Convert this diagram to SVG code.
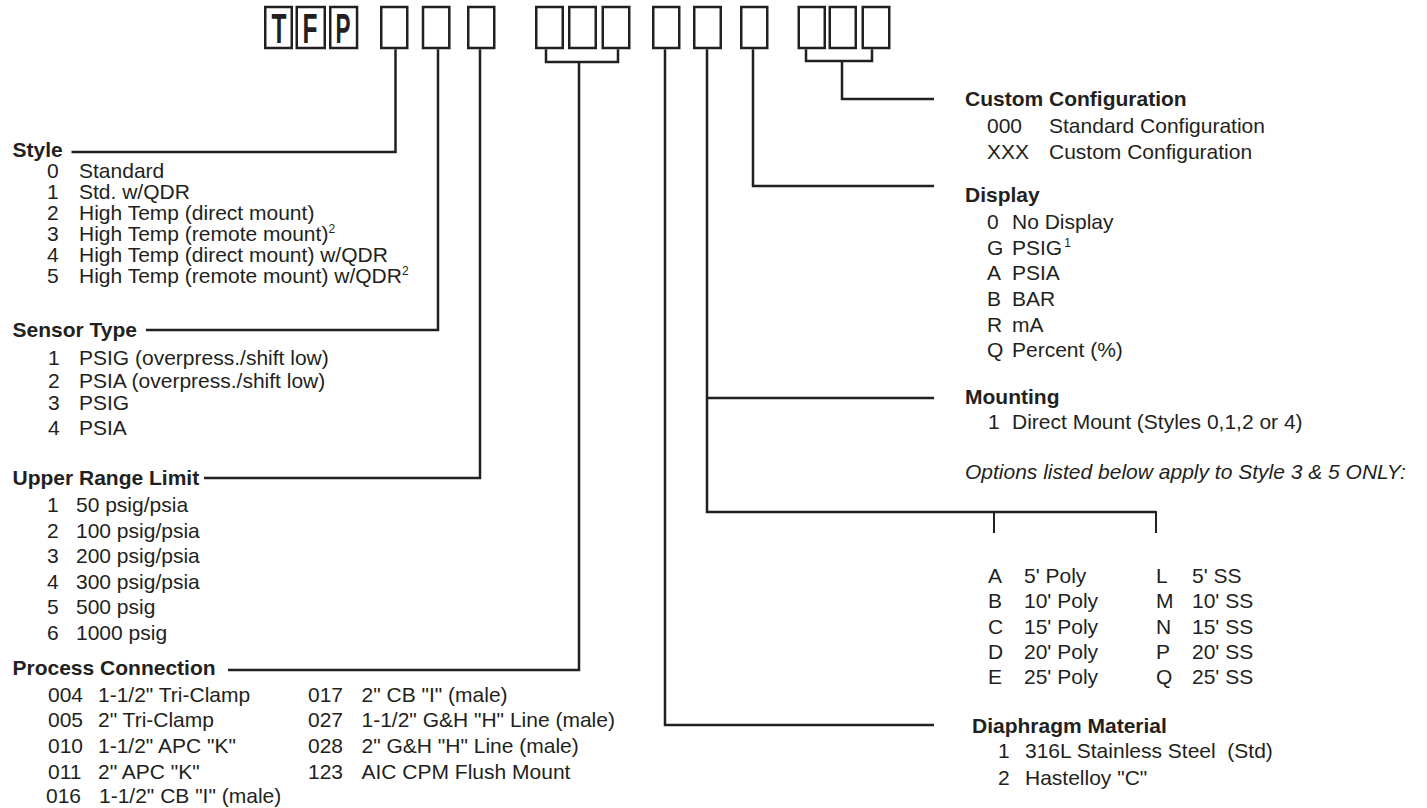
<svg xmlns="http://www.w3.org/2000/svg" width="1427" height="808" viewBox="0 0 1427 808">
<style>
.t{font-family:"Liberation Sans",Arial,Helvetica,sans-serif;font-size:21px;fill:#231f20}
.h{font-weight:bold}
.i{font-style:italic}
.sup{font-size:12px}
.box{fill:#fff;stroke:#231f20;stroke-width:2.5}
.ln{fill:none;stroke:#231f20;stroke-width:2.5;stroke-linejoin:miter;stroke-linecap:butt}
.tick{fill:none;stroke:#231f20;stroke-width:2}
.let{font-family:"Liberation Sans",Arial,Helvetica,sans-serif;font-weight:bold;font-size:43px;fill:#231f20}
</style>
<rect width="1427" height="808" fill="#fff"/>

<g id="code-boxes">
<rect class="box" x="265.25" y="7" width="26.5" height="41"/>
<rect class="box" x="296.75" y="7" width="28" height="41"/>
<rect class="box" x="330.25" y="7" width="26.8" height="41"/>
<text class="let" x="279" y="43.3" text-anchor="middle" textLength="15" lengthAdjust="spacingAndGlyphs">T</text>
<text class="let" x="310" y="43.3" text-anchor="middle" textLength="15" lengthAdjust="spacingAndGlyphs">F</text>
<text class="let" x="343" y="43.3" text-anchor="middle" textLength="15" lengthAdjust="spacingAndGlyphs">P</text>
<rect class="box" x="381.25" y="7" width="26" height="41"/>
<rect class="box" x="423" y="7" width="26.3" height="41"/>
<rect class="box" x="468.25" y="7" width="26" height="41"/>
<rect class="box" x="536.25" y="7" width="26.5" height="41"/>
<rect class="box" x="569.25" y="7" width="26.5" height="41"/>
<rect class="box" x="602.75" y="7" width="26.5" height="41"/>
<rect class="box" x="653.25" y="7" width="26" height="41"/>
<rect class="box" x="694.25" y="7" width="26.5" height="41"/>
<rect class="box" x="741.25" y="7" width="26" height="41"/>
<rect class="box" x="798.75" y="7" width="26" height="41"/>
<rect class="box" x="829.75" y="7" width="26" height="41"/>
<rect class="box" x="862.75" y="7" width="26.5" height="41"/>
</g>

<g id="connectors">
<path class="ln" d="M395.5 49.25V152H71.5"/>
<path class="ln" d="M438 49.25V330H146"/>
<path class="ln" d="M480 49.25V478H204"/>
<path class="ln" d="M546 49.25V62H618V49.25M579 62V670H228"/>
<path class="ln" d="M665 49.25V725H934"/>
<path class="ln" d="M707 49.25V512H1156M707 398H934"/>
<path class="tick" d="M994 512V533M1156 511V533"/>
<path class="ln" d="M753 49.25V186H934"/>
<path class="ln" d="M806 49.25V61H872V49.25M842 61V99H934"/>
</g>

<g id="style">
<text class="t h" x="12.5" y="156.5">Style</text>
<text class="t" x="47" y="177.5">0</text><text class="t" x="79" y="177.5">Standard</text>
<text class="t" x="47" y="198.5">1</text><text class="t" x="79" y="198.5">Std. w/QDR</text>
<text class="t" x="47" y="219.5">2</text><text class="t" x="79" y="219.5">High Temp (direct mount)</text>
<text class="t" x="47" y="240.5">3</text><text class="t" x="79" y="240.5">High Temp (remote mount)<tspan class="sup" dy="-8">2</tspan></text>
<text class="t" x="47" y="261.5">4</text><text class="t" x="79" y="261.5">High Temp (direct mount) w/QDR</text>
<text class="t" x="47" y="282.5">5</text><text class="t" x="79" y="282.5">High Temp (remote mount) w/QDR<tspan class="sup" dy="-8">2</tspan></text>
</g>

<g id="sensor-type">
<text class="t h" x="12.5" y="336.5">Sensor Type</text>
<text class="t" x="48" y="364.5">1</text><text class="t" x="79" y="364.5">PSIG (overpress./shift low)</text>
<text class="t" x="48" y="387.5">2</text><text class="t" x="79" y="387.5">PSIA (overpress./shift low)</text>
<text class="t" x="48" y="409.5">3</text><text class="t" x="79" y="409.5">PSIG</text>
<text class="t" x="48" y="435">4</text><text class="t" x="79" y="435">PSIA</text>
</g>

<g id="upper-range-limit">
<text class="t h" x="12.5" y="485">Upper Range Limit</text>
<text class="t" x="47" y="511.5">1</text><text class="t" x="76" y="511.5">50 psig/psia</text>
<text class="t" x="47" y="537.5">2</text><text class="t" x="76" y="537.5">100 psig/psia</text>
<text class="t" x="47" y="562.5">3</text><text class="t" x="76" y="562.5">200 psig/psia</text>
<text class="t" x="47" y="588.5">4</text><text class="t" x="76" y="588.5">300 psig/psia</text>
<text class="t" x="47" y="613.5">5</text><text class="t" x="76" y="613.5">500 psig</text>
<text class="t" x="47" y="639.5">6</text><text class="t" x="76" y="639.5">1000 psig</text>
</g>

<g id="process-connection">
<text class="t h" x="12.5" y="675">Process Connection</text>
<text class="t" x="48" y="701.5">004</text><text class="t" x="98" y="701.5">1-1/2" Tri-Clamp</text>
<text class="t" x="48" y="726.5">005</text><text class="t" x="98" y="726.5">2" Tri-Clamp</text>
<text class="t" x="48" y="752.5">010</text><text class="t" x="98" y="752.5">1-1/2" APC "K"</text>
<text class="t" x="48" y="778.5">011</text><text class="t" x="98" y="778.5">2" APC "K"</text>
<text class="t" x="46" y="803">016</text><text class="t" x="99" y="803">1-1/2" CB "I" (male)</text>
<text class="t" x="308" y="701.5">017</text><text class="t" x="361.5" y="701.5">2" CB "I" (male)</text>
<text class="t" x="308" y="726.5">027</text><text class="t" x="361.5" y="726.5">1-1/2" G&amp;H "H" Line (male)</text>
<text class="t" x="308" y="752.5">028</text><text class="t" x="361.5" y="752.5">2" G&amp;H "H" Line (male)</text>
<text class="t" x="308" y="778.5">123</text><text class="t" x="361.5" y="778.5">AIC CPM Flush Mount</text>
</g>

<g id="custom-configuration">
<text class="t h" x="965" y="106">Custom Configuration</text>
<text class="t" x="987" y="132.5">000</text><text class="t" x="1049" y="132.5">Standard Configuration</text>
<text class="t" x="987" y="159">XXX</text><text class="t" x="1049" y="159">Custom Configuration</text>
</g>

<g id="display">
<text class="t h" x="965" y="202">Display</text>
<text class="t" x="987" y="229">0</text><text class="t" x="1012" y="229">No Display</text>
<text class="t" x="987" y="254.5">G</text><text class="t" x="1012" y="254.5">PSIG<tspan class="sup" dx="2" dy="-8">1</tspan></text>
<text class="t" x="987" y="280">A</text><text class="t" x="1012" y="280">PSIA</text>
<text class="t" x="987" y="305.5">B</text><text class="t" x="1012" y="305.5">BAR</text>
<text class="t" x="987" y="331.5">R</text><text class="t" x="1012" y="331.5">mA</text>
<text class="t" x="987" y="356.5">Q</text><text class="t" x="1012" y="356.5">Percent (%)</text>
</g>

<g id="mounting">
<text class="t h" x="965" y="404">Mounting</text>
<text class="t" x="988" y="429">1</text><text class="t" x="1012" y="429">Direct Mount (Styles 0,1,2 or 4)</text>
<text class="t i" x="965" y="479">Options listed below apply to Style 3 &amp; 5 ONLY:</text>
</g>

<g id="remote-options">
<text class="t" x="988" y="582.5">A</text><text class="t" x="1024" y="582.5">5' Poly</text>
<text class="t" x="988" y="607.5">B</text><text class="t" x="1024" y="607.5">10' Poly</text>
<text class="t" x="988" y="634">C</text><text class="t" x="1024" y="634">15' Poly</text>
<text class="t" x="988" y="659">D</text><text class="t" x="1024" y="659">20' Poly</text>
<text class="t" x="988" y="684">E</text><text class="t" x="1024" y="684">25' Poly</text>
<text class="t" x="1156" y="582.5">L</text><text class="t" x="1192" y="582.5">5' SS</text>
<text class="t" x="1156" y="607.5">M</text><text class="t" x="1192" y="607.5">10' SS</text>
<text class="t" x="1156" y="634">N</text><text class="t" x="1192" y="634">15' SS</text>
<text class="t" x="1156" y="659">P</text><text class="t" x="1192" y="659">20' SS</text>
<text class="t" x="1156" y="684">Q</text><text class="t" x="1192" y="684">25' SS</text>
</g>

<g id="diaphragm-material">
<text class="t h" x="972" y="733">Diaphragm Material</text>
<text class="t" x="998" y="758">1</text><text class="t" x="1025" y="758" xml:space="preserve">316L Stainless Steel  (Std)</text>
<text class="t" x="998" y="784.5">2</text><text class="t" x="1025" y="784.5">Hastelloy "C"</text>
</g>
</svg>
